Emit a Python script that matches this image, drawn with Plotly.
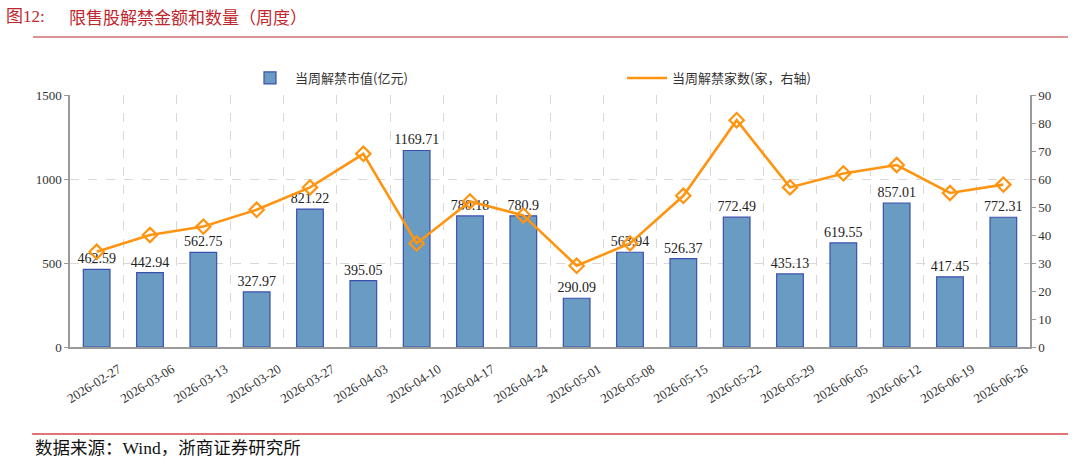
import plotly.graph_objects as go

dates = ["2026-02-27","2026-03-06","2026-03-13","2026-03-20","2026-03-27","2026-04-03",
         "2026-04-10","2026-04-17","2026-04-24","2026-05-01","2026-05-08","2026-05-15",
         "2026-05-22","2026-05-29","2026-06-05","2026-06-12","2026-06-19","2026-06-26"]
market_value = [462.59,442.94,562.75,327.97,821.22,395.05,1169.71,780.18,780.9,290.09,
                563.94,526.37,772.49,435.13,619.55,857.01,417.45,772.31]
company_count = [34,40,43,49,57,69,37,52,47,29,37,54,81,57,62,65,55,58]

bar_name = "当周解禁市值(亿元)"
line_name = "当周解禁家数(家，右轴)"

W, H = 1073, 461
SERIF = "Liberation Serif, Times New Roman, serif"
CJK = "Noto Sans CJK SC"
ORANGE = "#ff9410"

def px(x):
    return x / W

def py(y):
    return 1 - y / H

fig = go.Figure()
fig.add_trace(go.Bar(
    x=dates, y=market_value, name=bar_name,
    marker=dict(color="#6a9bc3", line=dict(color="#3b4fb0", width=1.2)),
    text=[f"{v:g}" for v in market_value], textposition="outside",
    constraintext="none",
    textfont=dict(family=SERIF, size=14, color="#222222"),
    cliponaxis=False, yaxis="y",
))
fig.add_trace(go.Scatter(
    x=dates, y=company_count, name=line_name, mode="lines+markers",
    line=dict(color=ORANGE, width=2.6), showlegend=False,
    marker=dict(symbol="diamond-open", size=11, color=ORANGE, line=dict(width=2.2, color=ORANGE)),
    yaxis="y2",
))
# legend-only entry (line without marker, as in the reference legend)
fig.add_trace(go.Scatter(
    x=[dates[0]], y=[None], name=line_name, mode="lines",
    line=dict(color=ORANGE, width=2.6), yaxis="y2", showlegend=True,
))

fig.update_layout(
    width=W, height=H, margin=dict(l=0, r=0, t=0, b=0, autoexpand=False),
    paper_bgcolor="white", plot_bgcolor="white",
    bargap=0.5, showlegend=True,
    legend=dict(orientation="h", x=px(245), y=py(78), xanchor="left", yanchor="middle",
                entrywidth=322, entrywidthmode="pixels", itemwidth=40,
                font=dict(family=CJK, size=13, color="#333333"), bgcolor="rgba(0,0,0,0)"),
    xaxis=dict(domain=[px(70), px(1030)], type="category", tickson="boundaries",
               range=[-0.5, len(dates) - 0.5], automargin=False,
               showgrid=True, gridcolor="#d9d9d9", griddash="dash", gridwidth=1,
               showline=True, linecolor="#9a9a9a", linewidth=1.5, ticks="",
               tickangle=-32, tickfont=dict(family=SERIF, size=13, color="#333333"),
               ticklabelshift=22, ticklabelstandoff=8),
    yaxis=dict(domain=[py(347), py(95)], range=[0, 1500], dtick=500, automargin=False,
               showgrid=True, gridcolor="#d9d9d9", griddash="dash",
               showline=True, linecolor="#9a9a9a", linewidth=1.5,
               ticks="outside", ticklen=4, tickcolor="#9a9a9a",
               tickfont=dict(family=SERIF, size=13, color="#333333"), zeroline=False),
    yaxis2=dict(overlaying="y", side="right", range=[0, 90], dtick=10, automargin=False,
                showgrid=False, showline=True, linecolor="#9a9a9a", linewidth=1.5,
                ticks="outside", ticklen=4, tickcolor="#9a9a9a",
                tickfont=dict(family=SERIF, size=13, color="#333333"), zeroline=False),
)

fig.add_annotation(xref="paper", yref="paper", x=px(4), y=py(16), xanchor="left", yanchor="middle",
                   text="图12:", showarrow=False,
                   font=dict(family=SERIF + ", " + CJK, size=17, color="#c0262d"))
fig.add_annotation(xref="paper", yref="paper", x=px(67), y=py(16), xanchor="left", yanchor="middle",
                   text="限售股解禁金额和数量（周度）", showarrow=False,
                   font=dict(family=CJK, size=17, color="#c0262d"))
fig.add_shape(type="line", xref="paper", yref="paper", x0=px(33), x1=px(1068), y0=py(37), y1=py(37),
              line=dict(color="#c0262d", width=1.2))
fig.add_shape(type="line", xref="paper", yref="paper", x0=px(32), x1=px(1068), y0=py(434), y1=py(434),
              line=dict(color="#d9454b", width=1.5))
fig.add_annotation(xref="paper", yref="paper", x=px(33), y=py(448), xanchor="left", yanchor="middle",
                   text="数据来源：Wind，浙商证券研究所", showarrow=False,
                   font=dict(family=SERIF + ", " + CJK, size=17.5, color="#111111"))

fig.write_html("out.html")
